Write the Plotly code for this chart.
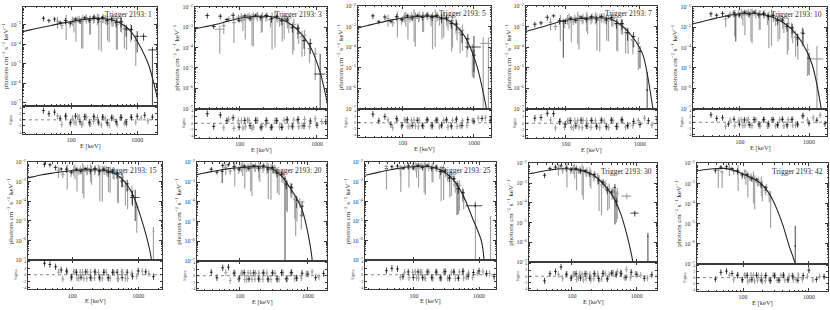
import plotly.graph_objects as go

# ---------------- data ----------------
E_BLACK = [38, 46, 56, 68, 82, 98, 116, 136, 160, 188, 220, 258, 300, 350, 410, 480, 570, 680, 820, 1000, 1300, 1700]
E_GRAY = [62, 72, 84, 96, 110, 126, 144, 166, 190, 218, 250, 286, 328, 376, 432, 500, 580, 690, 800, 950, 1150, 1450]
E_GRAY2 = [105, 118, 132, 150, 170, 196, 225, 262, 305, 355, 415, 485, 560, 640]
REL_BLACK = [0.3, 0.25, 0.3, 0.2, 0.35, 0.25, 0.2, 0.3, 0.2, 0.3, 0.25, 0.35, 0.25, 0.4, 0.3, 0.45, 0.5, 0.6, 0.7, 0.85, 0.95, 0.98]
REL_GRAY = [0.6, 0.35, 0.9, 0.4, 0.7, 0.3, 0.95, 0.35, 0.8, 0.4, 0.6, 0.97, 0.5, 0.9, 0.6, 0.95, 0.7, 0.9, 0.8, 0.95, 0.97, 0.99]
REL_GRAY2 = [0.5, 0.9, 0.4, 0.96, 0.5, 0.8, 0.45, 0.97, 0.5, 0.9, 0.6, 0.95, 0.7, 0.9]

TRIGGERS = [1, 3, 5, 7, 10, 15, 20, 25, 30, 42]
X_TICKS = [100, 1000]
Y_TICKS = [1e-7, 1e-6, 1e-5, 1e-4, 1e-3, 1e-2]
Y_TICKTEXT = ["10<sup>−7</sup>", "10<sup>−6</sup>", "10<sup>−5</sup>", "10<sup>−4</sup>", "10<sup>−3</sup>", "10<sup>−2</sup>"]
R_TICKS = [-4, -2, 0, 2, 4]

P1_MODEL_E = [18, 25, 35, 50, 70, 100, 140, 200, 280, 400, 560, 800, 1100, 1500, 2100]
P1_MODEL_F = [4.2e-4, 5.5e-4, 7e-4, 9e-4, 1.15e-3, 1.4e-3, 1.75e-3, 2e-3, 2.05e-3, 1.75e-3, 1.15e-3, 4.5e-4, 8e-5, 8e-6, 1e-7]
P1_BLACK_F = [2.1e-3, 1.6e-3, 1.9e-3, 1.3e-3, 1.6e-3, 1.2e-3, 1.9e-3, 1.5e-3, 2.2e-3, 1.7e-3, 2.4e-3, 1.8e-3, 2.3e-3, 1.6e-3, 1.9e-3, 1.3e-3, 1.4e-3, 6e-4, 5.5e-4, 2.5e-4, None, None]
P1_BLACK_R = [3, 2, 2.5, 0.5, 1.2, -0.8, 1.2, -0.6, 1, -0.8, 1.1, -0.7, 0.9, -0.9, 0.6, -0.6, 0.8, -0.7, 0.8, 1.2, 1.5, 0.9]
P1_GRAY_F = [1.5e-3, 9e-4, 1.6e-3, 1.1e-3, 1.3e-3, 2e-3, 1.2e-3, 2.2e-3, 1.5e-3, 1.8e-3, 2.3e-3, 1.4e-3, 2.1e-3, 1.2e-3, 1.9e-3, 1e-3, 1.3e-3, 5e-4, 6e-4, 1.5e-4, None, None]
P1_GRAY_R = [1.2, -1.5, 1.3, -1.3, -0.8, 1, -1.6, 1.1, -1.4, -0.5, 0.7, -1.7, 0.4, -1.8, 0.5, -1.5, 0.7, -1.4, 1, -0.8, 0.6, -0.4]
P1_GRAY2_F = [1.7e-3, 1.3e-3, 2e-3, 1.5e-3, 2.2e-3, 1.6e-3, 2.3e-3, 1.7e-3, 2.3e-3, 1.5e-3, 2e-3, 1.1e-3, 1.4e-3, 6e-4]
P1_GRAY2_R = [0.6, -1, 0.9, -1.2, 0.8, -1.3, 0.7, -1.1, 0.8, -1.2, 0.9, -1, 0.8, -1.1]
P1_EXTRA_E = [1250, 1700]
P1_EXTRA_F = [2.5e-4, 5e-5]
P1_EXTRA_W = [150, 250]
P1_EXTRA_LO = [1.5e-4, 1e-9]
P1_EXTRA_HI = [3.5e-4, 7e-5]
P1_EXTRA_C = ["k", "k"]

P2_MODEL_E = [18, 25, 35, 50, 70, 100, 140, 200, 280, 400, 560, 800, 1100, 1500]
P2_MODEL_F = [5.5e-4, 8e-4, 1.05e-3, 1.4e-3, 2e-3, 2.8e-3, 3.3e-3, 3.5e-3, 3.1e-3, 1.9e-3, 7.5e-4, 1.3e-4, 6e-6, 3e-8]
P2_BLACK_F = [3.8e-3, 1.1e-3, 3.5e-3, 2.4e-3, 3.9e-3, 2.2e-3, 3.6e-3, 2.8e-3, 3.9e-3, 3e-3, 3.8e-3, 2.6e-3, 3.3e-3, 2.1e-3, 2.3e-3, 1e-3, 9e-4, 2.2e-4, 1.6e-4, None, None, None]
P2_BLACK_R = [3, -1, 2.6, 0.8, 1.7, -1.2, 0.9, -0.8, 0.9, -1.2, 0.8, -1.2, 0.8, -1.3, 1.2, -0.9, 1.2, -0.8, 0.7, -0.6, 0.5, -0.4]
P2_GRAY_F = [1.2e-3, 2.6e-3, 1.7e-3, 3.1e-3, 2.2e-3, 3.6e-3, 2.4e-3, 3.8e-3, 2.6e-3, 3.1e-3, 2.4e-3, 3.4e-3, 2.1e-3, 2.6e-3, 1.3e-3, 1.4e-3, 5e-4, 4e-4, 9e-5, 5e-5, None, None]
P2_GRAY_R = [-1.4, 1.2, -1.6, 0.8, -1.5, 1, -1.6, 0.9, -1.6, -0.5, -1.4, 0.9, -1.2, 0.9, -1.1, 1, -1.1, 1.2, -1, 1.4, 0.6, -0.5]
P2_GRAY2_F = [3.4e-3, 2.5e-3, 3.7e-3, 2.8e-3, 3.9e-3, 3e-3, 3.8e-3, 2.7e-3, 3.3e-3, 2e-3, 2.2e-3, 9e-4, 9e-4, 3.5e-4]
P2_GRAY2_R = [0.8, -1.1, 0.9, -1.2, 0.8, -1, 0.9, -1.2, 0.8, -1.1, 0.9, -1.2, 0.9, -0.8]
P2_EXTRA_E = [55, 1100]
P2_EXTRA_F = [8e-4, 5e-6]
P2_EXTRA_W = [8, 180]
P2_EXTRA_LO = [5e-5, 1e-9]
P2_EXTRA_HI = [1.2e-3, 5e-5]
P2_EXTRA_C = ["g", "k"]

P3_MODEL_E = [18, 25, 35, 50, 70, 100, 140, 200, 280, 400, 560, 800, 1100, 1500, 2100]
P3_MODEL_F = [7.5e-4, 9e-4, 1.2e-3, 1.6e-3, 2.1e-3, 2.6e-3, 3e-3, 3.2e-3, 3.1e-3, 2.3e-3, 1.1e-3, 2.1e-4, 1.2e-5, 1e-7, 1e-10]
P3_BLACK_F = [3.3e-3, 1.7e-3, 2.9e-3, 1.8e-3, 3e-3, 2.2e-3, 3.3e-3, 2.6e-3, 3.5e-3, 2.8e-3, 3.6e-3, 2.8e-3, 3.4e-3, 2.4e-3, 2.6e-3, 1.4e-3, 1.3e-3, 4e-4, 2.5e-4, 4e-5, None, None]
P3_BLACK_R = [2.8, 0.6, 2, -0.5, 1.3, -0.8, 1, -0.9, 0.8, -0.9, 1, -0.8, 0.9, -0.7, 1, -1, 1.2, -0.9, 1, 0.5, 1.4, 0.8]
P3_GRAY_F = [2.4e-3, 1.5e-3, 2.9e-3, 2e-3, 3.2e-3, 2.3e-3, 3.5e-3, 2.5e-3, 2.8e-3, 3.6e-3, 2.5e-3, 3.4e-3, 2.2e-3, 2.9e-3, 1.6e-3, 1.9e-3, 7e-4, 6.5e-4, 1.6e-4, 7e-5, None, None]
P3_GRAY_R = [0.9, -1.6, 0.8, -1.3, 0.7, -1.2, 0.9, -1.3, -1, 0.8, -1.2, 0.6, -1.3, 0.7, -1.4, 0.8, -1.2, 0.6, -0.9, 0.8, 1.5, 1.6]
P3_GRAY2_F = [3.1e-3, 2.3e-3, 3.4e-3, 2.6e-3, 3.6e-3, 2.7e-3, 3.7e-3, 2.6e-3, 3.5e-3, 2.3e-3, 2.6e-3, 1.2e-3, 1.4e-3, 5e-4]
P3_GRAY2_R = [0.9, -1.2, 0.8, -1, 0.9, -1.1, 0.8, -1.2, 0.9, -1, 0.8, -1.3, 0.9, -1]
P3_EXTRA_E = [1000, 1350, 1600]
P3_EXTRA_F = [1e-4, 1.5e-4, 1.5e-4]
P3_EXTRA_W = [250, 120, 150]
P3_EXTRA_LO = [3e-6, 1e-9, 1e-9]
P3_EXTRA_HI = [3.5e-4, 3e-4, 3e-4]
P3_EXTRA_C = ["k", "g", "g"]

P4_MODEL_E = [18, 25, 35, 50, 70, 100, 140, 200, 280, 400, 560, 800, 1100, 1500, 2100]
P4_MODEL_F = [3.5e-4, 5e-4, 7e-4, 1e-3, 1.45e-3, 2e-3, 2.3e-3, 2.55e-3, 2.65e-3, 2.3e-3, 1.15e-3, 3e-4, 4e-5, 1e-7, 1e-10]
P4_BLACK_F = [1.3e-3, 1.5e-3, 2.8e-3, 3.3e-3, 1.9e-3, 1.8e-3, 2.5e-3, 2e-3, 2.9e-3, 2.2e-3, 3e-3, 2.3e-3, 3.1e-3, 2.1e-3, 2.7e-3, 1.4e-3, 1.4e-3, 5e-4, 3.2e-4, 6e-5, None, None]
P4_BLACK_R = [1.6, 1.8, 3.1, 3, 0.5, -0.3, 0.8, -0.8, 1, -0.8, 0.9, -0.9, 1, -1, 1, -1, 1.1, -0.7, 0.6, -0.4, 0.8, 1.2]
P4_GRAY_F = [1.6e-3, 1e-3, 1.9e-3, 1.4e-3, 2.5e-3, 1.7e-3, 2.7e-3, 1.9e-3, 2.9e-3, 2.1e-3, 3.1e-3, 2e-3, 2.9e-3, 1.9e-3, 2.4e-3, 1.2e-3, 1.3e-3, 4.5e-4, 2.2e-4, 1.5e-4, None, None]
P4_GRAY_R = [1, -1.5, 0.6, -1.3, 0.9, -1.4, 0.8, -1.4, 0.8, -1.3, 0.8, -1.4, 0.7, -1.3, 0.8, -1.2, 0.7, -0.9, -0.7, 0.9, 1.6, -0.6]
P4_GRAY2_F = [2.4e-3, 1.7e-3, 2.6e-3, 1.9e-3, 2.8e-3, 2.1e-3, 3e-3, 2.2e-3, 3e-3, 2e-3, 2.6e-3, 1.3e-3, 1.4e-3, 5e-4]
P4_GRAY2_R = [0.7, -1.3, 0.8, -1.2, 0.9, -1, 0.8, -1.1, 0.7, -1.2, 0.9, -1.1, 0.8, -1.2]
P4_EXTRA_E = [92, 800, 1250]
P4_EXTRA_F = [1.8e-3, 2.2e-4, 8e-7]
P4_EXTRA_W = [4, 60, 40]
P4_EXTRA_LO = [3e-5, 1.5e-4, 1e-9]
P4_EXTRA_HI = [2.3e-3, 3e-4, 6e-6]
P4_EXTRA_C = ["k", "g", "k"]

P5_MODEL_E = [18, 25, 35, 50, 70, 100, 140, 200, 280, 400, 560, 800, 1100, 1500, 2100]
P5_MODEL_F = [1.3e-3, 1.7e-3, 2.3e-3, 3e-3, 3.9e-3, 4.6e-3, 4.9e-3, 4.4e-3, 3.4e-3, 1.9e-3, 8e-4, 1.7e-4, 1.6e-5, 1e-7, 1e-11]
P5_BLACK_F = [4.6e-3, 3.9e-3, 4.8e-3, 3.4e-3, 5.1e-3, 4e-3, 5.5e-3, 4.3e-3, 5.6e-3, 4.1e-3, 4.8e-3, 3.4e-3, 3.8e-3, 2.2e-3, 2.3e-3, 1.1e-3, 9.5e-4, 3e-4, 5e-4, 3e-5, None, None]
P5_BLACK_R = [2.5, 1.3, 1.5, -0.6, 1, -0.7, 0.8, -0.8, 0.9, -0.6, 0.9, -0.5, 0.9, -0.8, 1, -0.8, 1, -0.6, 2.2, -0.4, 0.7, -0.5]
P5_GRAY_F = [2.6e-3, 4.4e-3, 3.5e-3, 5e-3, 3.9e-3, 5.4e-3, 4.1e-3, 5.3e-3, 3.8e-3, 4.8e-3, 3.2e-3, 3.9e-3, 2.3e-3, 2.6e-3, 1.3e-3, 1.5e-3, 5.5e-4, 2.5e-4, 5.6e-4, 8e-5, None, None]
P5_GRAY_R = [-1.4, 0.7, -1.2, 0.7, -1.1, 0.7, -1.1, 0.8, -1.2, 0.7, -1.3, 0.8, -1.2, 0.8, -1.3, 0.9, -1, -0.9, 2, 0.8, 1.5, 2.4]
P5_GRAY2_F = [5.2e-3, 4e-3, 5.5e-3, 4.1e-3, 5.3e-3, 3.8e-3, 4.7e-3, 3.1e-3, 3.6e-3, 2e-3, 2.1e-3, 9e-4, 1e-3, 3.5e-4]
P5_GRAY2_R = [0.8, -1, 0.9, -1.1, 0.8, -1.2, 0.9, -1.2, 0.8, -1.1, 0.9, -1.3, 0.8, -1]
P5_EXTRA_E = [87, 1300]
P5_EXTRA_F = [4e-3, 2.8e-5]
P5_EXTRA_W = [4, 300]
P5_EXTRA_LO = [2e-4, 1e-9]
P5_EXTRA_HI = [4.8e-3, 1.2e-4]
P5_EXTRA_C = ["k", "g"]

P6_MODEL_E = [18, 25, 35, 50, 70, 100, 140, 200, 280, 400, 560, 800, 1100, 1500, 2100]
P6_MODEL_F = [1.4e-3, 1.8e-3, 2.3e-3, 2.8e-3, 3.3e-3, 3.7e-3, 4.1e-3, 4.2e-3, 4e-3, 3.1e-3, 1.5e-3, 2.8e-4, 1.5e-5, 3e-7, 1e-10]
P6_BLACK_F = [8e-3, 7.5e-3, 5.5e-3, 4.6e-3, 4.5e-3, 3.2e-3, 4.4e-3, 3.5e-3, 4.8e-3, 3.6e-3, 4.9e-3, 3.5e-3, 4.5e-3, 3e-3, 3.6e-3, 2.7e-3, 1.1e-3, 8e-4, 2e-4, None, None, None]
P6_BLACK_R = [3.6, 3.2, 2.5, 1.5, 1.2, -0.7, 0.8, -0.8, 0.9, -0.9, 0.9, -0.8, 0.8, -0.9, 0.8, 0.8, -0.9, 0.8, -0.5, 1.2, 0.9, -0.6]
P6_GRAY_F = [3.8e-3, 2.4e-3, 4.1e-3, 3e-3, 4.5e-3, 3.2e-3, 4.8e-3, 3.4e-3, 4.9e-3, 3.6e-3, 4.7e-3, 3.3e-3, 4.3e-3, 2.8e-3, 3.2e-3, 1.6e-3, 1.7e-3, 4e-4, 3.5e-4, 5e-5, None, None]
P6_GRAY_R = [0.8, -1.3, 0.9, -1.1, 0.8, -1.1, 0.8, -1.2, 0.8, -1, 0.7, -1.1, 0.8, -1.1, 0.6, -1.3, 0.8, -1.2, 0.6, -0.5, 1.1, 0.4]
P6_GRAY2_F = [4.3e-3, 3.2e-3, 4.6e-3, 3.5e-3, 4.8e-3, 3.6e-3, 4.8e-3, 3.4e-3, 4.5e-3, 3e-3, 3.5e-3, 1.7e-3, 1.8e-3, 6e-4]
P6_GRAY2_R = [0.9, -1.1, 0.8, -1.2, 0.9, -1.1, 0.8, -1.3, 0.8, -1.2, 0.7, -1.2, 0.9, -1.1]
P6_EXTRA_E = [900, 1700]
P6_EXTRA_F = [1.6e-4, 3e-6]
P6_EXTRA_W = [150, 60]
P6_EXTRA_LO = [1e-5, 1e-9]
P6_EXTRA_HI = [4e-4, 5e-6]
P6_EXTRA_C = ["k", "g"]

P7_MODEL_E = [18, 25, 35, 50, 70, 100, 140, 200, 280, 400, 560, 800, 1100, 1250]
P7_MODEL_F = [2e-3, 2.5e-3, 3.2e-3, 4e-3, 4.8e-3, 5.4e-3, 5.9e-3, 6e-3, 5.2e-3, 2.2e-3, 4.5e-4, 5e-5, 4e-7, 5e-9]
P7_BLACK_F = [4.5e-3, 3.2e-3, 7e-3, 7.5e-3, 5.9e-3, 4.6e-3, 6.4e-3, 5e-3, 6.8e-3, 5.1e-3, 6.7e-3, 4.6e-3, 5.6e-3, 2.9e-3, 2.5e-3, 8e-4, 5.5e-4, 1.2e-4, 6e-5, None, None, None]
P7_BLACK_R = [1.1, -0.6, 2.5, 2.7, 0.8, -0.8, 0.9, -1, 0.9, -1, 0.9, -1, 0.9, -1, 1, -0.9, 1, -0.7, 0.8, 0.5, -0.6, 0.7]
P7_GRAY_F = [5.5e-3, 3.6e-3, 6.2e-3, 4.3e-3, 6.5e-3, 4.6e-3, 6.8e-3, 5e-3, 6.9e-3, 4.8e-3, 6.3e-3, 4.2e-3, 4.9e-3, 2.2e-3, 2.2e-3, 6e-4, 5e-4, 1e-4, 2e-5, None, None, None]
P7_GRAY_R = [1, -1.5, 0.9, -1.2, 0.8, -1.2, 0.8, -1.1, 0.8, -1.1, 0.8, -1.2, 0.8, -1.1, 0.9, -1, 0.9, -0.8, -0.7, 0.6, 1.2, -0.4]
P7_GRAY2_F = [6.3e-3, 4.8e-3, 6.6e-3, 5e-3, 6.8e-3, 5.1e-3, 6.6e-3, 4.6e-3, 5.5e-3, 2.8e-3, 2.4e-3, 7e-4, 5.5e-4, 1.4e-4]
P7_GRAY2_R = [0.8, -1.2, 0.9, -1.1, 0.8, -1.2, 0.9, -1.3, 0.8, -1.1, 0.9, -1.2, 0.6, -0.9]
P7_EXTRA_E = [55, 460, 660, 760]
P7_EXTRA_F = [3.5e-3, 1.5e-3, 9e-5, 1e-4]
P7_EXTRA_W = [3, 15, 10, 130]
P7_EXTRA_LO = [9e-4, 1e-9, 1.8e-6, 5e-5]
P7_EXTRA_HI = [4.5e-3, 2e-3, 1.2e-4, 1.5e-4]
P7_EXTRA_C = ["k", "k", "g", "g"]

P8_MODEL_E = [18, 25, 35, 50, 70, 100, 140, 200, 280, 400, 560, 800, 1100, 1300]
P8_MODEL_F = [2.2e-3, 2.8e-3, 3.6e-3, 4.5e-3, 5.5e-3, 6e-3, 6.3e-3, 5.5e-3, 3.5e-3, 1.3e-3, 2.3e-4, 1.3e-5, 8e-7, 1e-9]
P8_BLACK_F = [4.8e-3, 6e-3, 6.5e-3, 5e-3, 6.6e-3, 5.2e-3, 7e-3, 5.5e-3, 7e-3, 5e-3, 5.7e-3, 3.4e-3, 3.6e-3, 1.6e-3, 1.5e-3, 4.5e-4, 2.8e-4, None, None, None, None, None]
P8_BLACK_R = [1.3, 2, 1.8, -0.6, 0.9, -0.9, 0.9, -0.9, 0.9, -0.8, 0.9, -0.9, 1, -1, 0.9, -1, 1.1, -0.5, 0.7, 1.2, 0.4, -0.6]
P8_GRAY_F = [4.5e-3, 6.3e-3, 5.1e-3, 6.8e-3, 5.4e-3, 7e-3, 5.6e-3, 6.7e-3, 4.9e-3, 5.6e-3, 3.5e-3, 3.9e-3, 2.1e-3, 1.9e-3, 7e-4, 6.5e-4, 1.3e-4, None, None, None, None, None]
P8_GRAY_R = [-0.8, 0.8, -0.9, 0.8, -0.9, 0.8, -0.8, 0.7, -1, 0.7, -1, 0.8, -1.1, 0.8, -1.2, 0.9, -1.1, 0.6, -0.8, 0.5, 0.9, 0.4]
P8_GRAY2_F = [6.9e-3, 5.2e-3, 7.1e-3, 5.3e-3, 6.9e-3, 4.8e-3, 5.6e-3, 3.4e-3, 3.5e-3, 1.6e-3, 1.4e-3, 4.5e-4, 3e-4, None]
P8_GRAY2_R = [0.9, -1.1, 0.8, -1.2, 0.9, -1.2, 0.8, -1.3, 0.9, -1.2, 0.8, -1.1, 0.9, -0.7]
P8_EXTRA_E = [38, 63, 460, 870, 880, 1500]
P8_EXTRA_F = [6.3e-3, 6e-3, 8e-4, 6e-5, 6e-5, 1e-5]
P8_EXTRA_W = [3, 3, 12, 250, 10, 10]
P8_EXTRA_LO = [4e-4, 3e-4, 2e-5, 5e-5, 1e-7, 1e-9]
P8_EXTRA_HI = [7.5e-3, 7e-3, 1.1e-3, 8e-5, 1e-4, 1.8e-5]
P8_EXTRA_C = ["g", "g", "k", "k", "g", "g"]

P9_MODEL_E = [18, 25, 35, 50, 70, 100, 140, 200, 280, 400, 560, 700, 850, 1000]
P9_MODEL_F = [2.6e-3, 3.2e-3, 4e-3, 4.8e-3, 5.3e-3, 5.2e-3, 4.4e-3, 2.9e-3, 1.2e-3, 3e-4, 3e-5, 2.5e-6, 1.5e-7, 5e-9]
P9_BLACK_F = [2.5e-3, 5.5e-3, 6.5e-3, 7.4e-3, 5.8e-3, 4.8e-3, 5.4e-3, 4.2e-3, 4.3e-3, 2.9e-3, 2.7e-3, 1.4e-3, 1.1e-3, 4.5e-4, 3.5e-4, 1.2e-4, None, None, None, None, None, None]
P9_BLACK_R = [-1.5, 0.8, 1.5, 3, 0.6, -0.6, 0.8, -0.6, 0.8, -0.6, 0.8, -0.7, 0.9, -0.8, 1, 0.5, 0.8, -0.4, 1.3, 0.6, -0.7, 0.5]
P9_GRAY_F = [5.8e-3, 4.6e-3, 6e-3, 4.7e-3, 5.7e-3, 4.2e-3, 4.8e-3, 3.2e-3, 3.5e-3, 2e-3, 2e-3, 8e-4, 9e-4, 5e-4, 4e-4, 3e-4, None, None, None, None, None, None]
P9_GRAY_R = [0.6, -0.7, 0.7, -0.6, 0.7, -0.6, 0.6, -0.7, 0.6, -0.8, 0.7, -0.9, 0.8, 0.6, 1.2, 1.5, 0.9, 2.2, -0.5, 0.7, 0.4, -0.6]
P9_GRAY2_F = [5.7e-3, 4.3e-3, 5.1e-3, 3.6e-3, 4.2e-3, 2.6e-3, 2.8e-3, 1.3e-3, 1.1e-3, 4e-4, 3.5e-4, 2e-4, None, None]
P9_GRAY2_R = [0.7, -1, 0.8, -1.2, 0.7, -1.2, 0.8, -1.3, 0.9, -1, 1, 0.8, 1.2, -0.5]
P9_EXTRA_E = [460, 700, 930, 1480]
P9_EXTRA_F = [6e-4, 2.2e-4, 3e-5, 2e-6]
P9_EXTRA_W = [12, 120, 130, 10]
P9_EXTRA_LO = [8e-6, 1.5e-4, 2e-5, 1e-9]
P9_EXTRA_HI = [9e-4, 3e-4, 4e-5, 3e-6]
P9_EXTRA_C = ["k", "g", "k", "k"]

P10_MODEL_E = [18, 25, 35, 50, 70, 100, 140, 200, 280, 400, 500, 620, 800]
P10_MODEL_F = [4e-3, 4.8e-3, 5.4e-3, 5.6e-3, 4.6e-3, 2.9e-3, 1.8e-3, 8e-4, 1.6e-4, 9e-6, 8e-7, 1e-7, 1e-9]
P10_BLACK_F = [4.5e-3, 6.5e-3, 6.8e-3, 5.5e-3, 4.2e-3, 2.7e-3, 2.7e-3, 1.7e-3, 1.6e-3, 8.5e-4, 6e-4, None, None, None, None, None, None, None, None, None, None, None]
P10_BLACK_R = [-0.5, 1.8, 2.2, 1.4, 0.8, -0.7, 0.8, -0.7, 0.8, -0.8, 0.7, -0.9, 0.6, -0.8, 0.9, -0.7, 0.5, -0.9, 0.7, 2.5, -0.6, 0.4]
P10_GRAY_F = [5.8e-3, 4.1e-3, 4.3e-3, 2.7e-3, 2.9e-3, 1.9e-3, 2e-3, 1.1e-3, 1.2e-3, 4.5e-4, 2.8e-4, None, None, None, None, None, None, None, None, None, None, None]
P10_GRAY_R = [0.8, -0.7, 0.9, -0.8, 0.7, -0.8, 0.8, -0.8, 0.7, -1, -0.5, 0.8, -0.9, 0.7, -0.8, 0.6, -0.7, 0.9, -0.6, 0.5, -0.8, 0.4]
P10_GRAY2_F = [3.2e-3, 2e-3, 2.3e-3, 1.3e-3, 1.45e-3, 6.5e-4, 6.5e-4, 2e-4, None, None, None, None, None, None]
P10_GRAY2_R = [0.8, -1.3, 0.9, -1.1, 0.8, -1.2, 0.7, -1.1, 0.9, -0.9, 0.6, -0.8, 0.7, -0.6]
P10_EXTRA_E = [42, 48, 620]
P10_EXTRA_F = [4.5e-3, 3.8e-3, 8e-7]
P10_EXTRA_W = [3, 3, 15]
P10_EXTRA_LO = [6e-4, 6e-4, 1e-9]
P10_EXTRA_HI = [5.5e-3, 4.5e-3, 8e-6]
P10_EXTRA_C = ["g", "g", "k"]

PANELS = [
    (P1_MODEL_E, P1_MODEL_F, P1_BLACK_F, P1_BLACK_R, P1_GRAY_F, P1_GRAY_R, P1_GRAY2_F, P1_GRAY2_R, P1_EXTRA_E, P1_EXTRA_F, P1_EXTRA_W, P1_EXTRA_LO, P1_EXTRA_HI, P1_EXTRA_C),
    (P2_MODEL_E, P2_MODEL_F, P2_BLACK_F, P2_BLACK_R, P2_GRAY_F, P2_GRAY_R, P2_GRAY2_F, P2_GRAY2_R, P2_EXTRA_E, P2_EXTRA_F, P2_EXTRA_W, P2_EXTRA_LO, P2_EXTRA_HI, P2_EXTRA_C),
    (P3_MODEL_E, P3_MODEL_F, P3_BLACK_F, P3_BLACK_R, P3_GRAY_F, P3_GRAY_R, P3_GRAY2_F, P3_GRAY2_R, P3_EXTRA_E, P3_EXTRA_F, P3_EXTRA_W, P3_EXTRA_LO, P3_EXTRA_HI, P3_EXTRA_C),
    (P4_MODEL_E, P4_MODEL_F, P4_BLACK_F, P4_BLACK_R, P4_GRAY_F, P4_GRAY_R, P4_GRAY2_F, P4_GRAY2_R, P4_EXTRA_E, P4_EXTRA_F, P4_EXTRA_W, P4_EXTRA_LO, P4_EXTRA_HI, P4_EXTRA_C),
    (P5_MODEL_E, P5_MODEL_F, P5_BLACK_F, P5_BLACK_R, P5_GRAY_F, P5_GRAY_R, P5_GRAY2_F, P5_GRAY2_R, P5_EXTRA_E, P5_EXTRA_F, P5_EXTRA_W, P5_EXTRA_LO, P5_EXTRA_HI, P5_EXTRA_C),
    (P6_MODEL_E, P6_MODEL_F, P6_BLACK_F, P6_BLACK_R, P6_GRAY_F, P6_GRAY_R, P6_GRAY2_F, P6_GRAY2_R, P6_EXTRA_E, P6_EXTRA_F, P6_EXTRA_W, P6_EXTRA_LO, P6_EXTRA_HI, P6_EXTRA_C),
    (P7_MODEL_E, P7_MODEL_F, P7_BLACK_F, P7_BLACK_R, P7_GRAY_F, P7_GRAY_R, P7_GRAY2_F, P7_GRAY2_R, P7_EXTRA_E, P7_EXTRA_F, P7_EXTRA_W, P7_EXTRA_LO, P7_EXTRA_HI, P7_EXTRA_C),
    (P8_MODEL_E, P8_MODEL_F, P8_BLACK_F, P8_BLACK_R, P8_GRAY_F, P8_GRAY_R, P8_GRAY2_F, P8_GRAY2_R, P8_EXTRA_E, P8_EXTRA_F, P8_EXTRA_W, P8_EXTRA_LO, P8_EXTRA_HI, P8_EXTRA_C),
    (P9_MODEL_E, P9_MODEL_F, P9_BLACK_F, P9_BLACK_R, P9_GRAY_F, P9_GRAY_R, P9_GRAY2_F, P9_GRAY2_R, P9_EXTRA_E, P9_EXTRA_F, P9_EXTRA_W, P9_EXTRA_LO, P9_EXTRA_HI, P9_EXTRA_C),
    (P10_MODEL_E, P10_MODEL_F, P10_BLACK_F, P10_BLACK_R, P10_GRAY_F, P10_GRAY_R, P10_GRAY2_F, P10_GRAY2_R, P10_EXTRA_E, P10_EXTRA_F, P10_EXTRA_W, P10_EXTRA_LO, P10_EXTRA_HI, P10_EXTRA_C),
]

# ---------------- layout (pixel frames of the panels) ----------------
W, H = 830, 310
# left, right, top, main-bottom, residual-bottom (pixels)
FRAMES = [(23, 157, 3, 104, 133), (195, 327, 3, 107, 137), (358, 491, 2, 107, 136),
          (526, 657, 2, 107, 137), (693, 827, 3, 107, 135),
          (28, 162, 162, 262, 292), (197, 327, 162, 263, 293), (365, 496, 162, 262, 292),
          (529, 657, 163, 264, 293), (697, 828, 163, 266, 294)]
XRANGES = [(1.27, 3.3), (1.42, 3.13), (1.37, 3.24), (1.46, 3.23), (1.32, 3.26),
           (1.33, 3.36), (1.37, 3.28), (1.25, 3.26), (1.34, 3.31), (1.30, 3.29)]
YRANGES = [(-7.15, -2.1)] + [(-7.0, -2.0)] * 9
RRANGE = (-4.6, 4.6)

FONT = "Liberation Serif"
BLACK = "#161616"
GRAY = "#a3a3a3"
LINEC = "#3a3a3a"
MINOR_X = [20, 30, 40, 50, 60, 70, 80, 90, 200, 300, 400, 500, 600, 700, 800, 900, 2000]
MINOR_Y = [m * 10.0 ** p for p in range(-7, -2) for m in range(2, 10)]


def px(xp):
    return xp / W


def py(yp):
    return 1 - yp / H


fig = go.Figure()
layout = dict(width=W, height=H, margin=dict(l=0, r=0, t=0, b=0),
              paper_bgcolor="white", plot_bgcolor="white", showlegend=False,
              font=dict(family=FONT, color="#222", size=6))
annotations = []
shapes = []


def data_trace(E, F, REL, color, thick, xa, ya):
    xs, ys, up, dn = [], [], [], []
    for e, f, r in zip(E, F, REL):
        if f is None:
            continue
        xs.append(e)
        ys.append(f)
        up.append(f * r)
        dn.append(f * min(r, 0.995))
    return go.Scatter(x=xs, y=ys, mode="markers", marker=dict(size=1, color=color),
                      error_y=dict(type="data", array=up, arrayminus=dn, color=color, thickness=thick, width=0),
                      error_x=dict(type="percent", value=6, color=color, thickness=thick, width=0),
                      xaxis=xa, yaxis=ya, hoverinfo="skip")


def resid_trace(E, R, color, thick, xa, ya):
    return go.Scatter(x=E, y=R, mode="markers", marker=dict(size=1, color=color),
                      error_y=dict(type="constant", value=1, color=color, thickness=thick, width=0),
                      error_x=dict(type="percent", value=5, color=color, thickness=thick, width=0),
                      xaxis=xa, yaxis=ya, hoverinfo="skip")


for i, panel in enumerate(PANELS):
    (ME, MF, BF, BR, GF, GR, G2F, G2R, XE, XF, XW, XLO, XHI, XC) = panel
    left, right, top, mb, rb = FRAMES[i]
    n1, n2 = 2 * i + 1, 2 * i + 2
    xa, ya = f"x{n1}", f"y{n1}"
    xr, yr = f"x{n2}", f"y{n2}"

    fig.add_trace(data_trace(E_GRAY, GF, REL_GRAY, GRAY, 1.2, xa, ya))
    fig.add_trace(data_trace(E_GRAY2, G2F, REL_GRAY2, GRAY, 1.2, xa, ya))
    fig.add_trace(data_trace(E_BLACK, BF, REL_BLACK, BLACK, 0.8, xa, ya))
    for ckey, col, th in (("g", GRAY, 1.2), ("k", BLACK, 0.8)):
        idx = [j for j, c in enumerate(XC) if c == ckey]
        if not idx:
            continue
        fig.add_trace(go.Scatter(
            x=[XE[j] for j in idx], y=[XF[j] for j in idx], mode="markers",
            marker=dict(size=1, color=col),
            error_x=dict(type="data", array=[XW[j] for j in idx], color=col, thickness=th, width=0),
            error_y=dict(type="data", array=[XHI[j] - XF[j] for j in idx],
                         arrayminus=[XF[j] - XLO[j] for j in idx], color=col, thickness=th, width=0),
            xaxis=xa, yaxis=ya, hoverinfo="skip"))
    fig.add_trace(go.Scatter(x=ME, y=MF, mode="lines",
                             line=dict(color="#262626", width=1.1, shape="spline", smoothing=0.8),
                             xaxis=xa, yaxis=ya, hoverinfo="skip"))
    fig.add_trace(resid_trace(E_GRAY, GR, GRAY, 1.1, xr, yr))
    fig.add_trace(resid_trace(E_GRAY2, G2R, GRAY, 1.1, xr, yr))
    fig.add_trace(resid_trace(E_BLACK, BR, BLACK, 0.8, xr, yr))

    xdom = [px(left), px(right)]
    common_x = dict(type="log", range=list(XRANGES[i]), domain=xdom, showgrid=False, zeroline=False,
                    showline=True, linecolor=LINEC, linewidth=0.8, mirror="allticks",
                    ticks="inside", ticklen=3, tickwidth=0.6, tickcolor=LINEC,
                    tickvals=X_TICKS,
                    minor=dict(tickvals=MINOR_X, ticks="inside", ticklen=1.5, tickwidth=0.5, tickcolor=LINEC))
    layout[f"xaxis{n1}"] = dict(common_x, anchor=ya, showticklabels=False)
    layout[f"xaxis{n2}"] = dict(common_x, anchor=yr, showticklabels=True,
                                ticktext=["100", "1000"], tickfont=dict(size=6, family=FONT, color="#333"))
    layout[f"yaxis{n1}"] = dict(type="log", range=list(YRANGES[i]), domain=[py(mb), py(top)], anchor=xa,
                                showgrid=False, zeroline=False, showline=True, linecolor=LINEC, linewidth=0.8,
                                mirror="allticks", ticks="inside", ticklen=3, tickwidth=0.6, tickcolor=LINEC,
                                tickvals=Y_TICKS, ticktext=Y_TICKTEXT,
                                tickfont=dict(size=6, family=FONT, color="#333"),
                                minor=dict(tickvals=MINOR_Y, ticks="inside", ticklen=1.5, tickwidth=0.4, tickcolor=LINEC))
    layout[f"yaxis{n2}"] = dict(range=list(RRANGE), domain=[py(rb), py(mb)], anchor=xr,
                                showgrid=False, zeroline=False, showline=True, linecolor=LINEC, linewidth=0.8,
                                mirror="allticks", ticks="inside", ticklen=2, tickwidth=0.5, tickcolor=LINEC,
                                tickvals=R_TICKS, tickfont=dict(size=4, family=FONT, color="#444"))

    shapes.append(dict(type="line", xref=f"{xr} domain", yref=yr, x0=0, x1=1, y0=0, y1=0,
                       line=dict(color="#555", width=0.7, dash="dot"), layer="below"))

    annotations.append(dict(text=f"Trigger 2193: {TRIGGERS[i]}", xref="paper", yref="paper",
                            x=px(right - 3), y=py(top + 8), xanchor="right", yanchor="middle",
                            showarrow=False, font=dict(size=7.5, family=FONT, color="#2a2a2a")))
    annotations.append(dict(text="photons cm<sup>−2</sup> s<sup>−1</sup> keV<sup>−1</sup>", xref="paper", yref="paper",
                            x=px(max(left - 18, 5)), y=py((top + mb) / 2), xanchor="center", yanchor="middle",
                            textangle=-90, showarrow=False, font=dict(size=7, family=FONT, color="#333")))
    annotations.append(dict(text="Sigma", xref="paper", yref="paper",
                            x=px(left - 12), y=py((mb + rb) / 2), xanchor="center", yanchor="middle",
                            textangle=-90, showarrow=False, font=dict(size=4, family=FONT, color="#444")))
    annotations.append(dict(text="E [keV]", xref="paper", yref="paper",
                            x=px((left + right) / 2), y=py(rb + 12), xanchor="center", yanchor="middle",
                            showarrow=False, font=dict(size=6.5, family=FONT, color="#333")))

layout["annotations"] = annotations
layout["shapes"] = shapes
fig.update_layout(**layout)
fig.write_html("out.html", config={"displayModeBar": False},
               post_script="document.body.style.margin='0px';document.body.style.overflow='hidden';")
